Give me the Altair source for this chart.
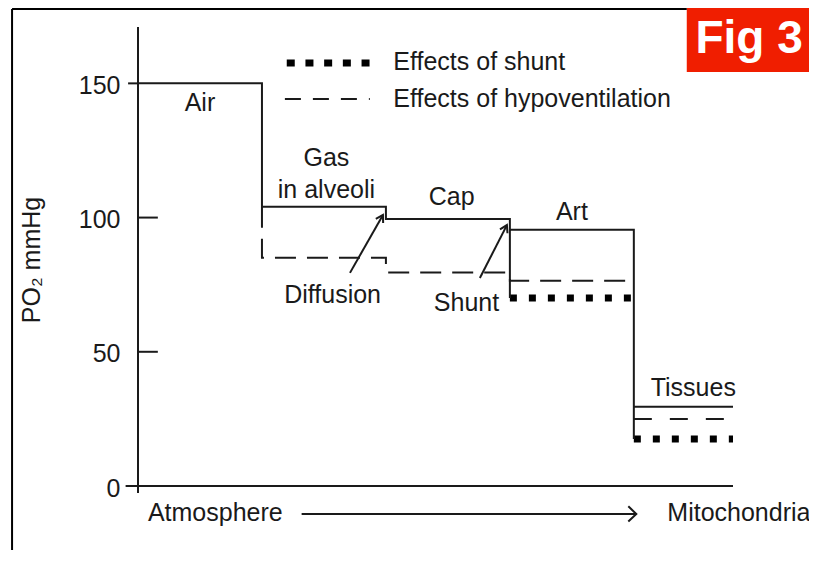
import altair as alt
import pandas as pd

# ---------------- data ----------------
compartments = ["Air", "Gas in alveoli", "Cap", "Art", "Tissues"]
bounds = [0, 1, 2, 3, 4, 4.8]                 # stage boundaries along the pathway
po2_normal = [150, 104, 99.5, 95.5, 29.5]      # mmHg, normal
po2_hypovent = [None, 85, 79.5, 76.5, 25]      # effects of hypoventilation
po2_shunt = [None, None, None, 70, 17.5]       # effects of shunt
tick_values = [0, 50, 100, 150]
tick_side = ["out", "in", "in", "out"]

FONT = "Liberation Sans"
INK = "#1a1a1a"
RED = "#f01e00"
FS = 25

xscale = alt.Scale(domain=[0, 4.8], nice=False, zero=False)
yscale = alt.Scale(domain=[0, 171], nice=False, zero=False)
yaxis = alt.Axis(values=tick_values, domain=False, ticks=False, grid=False, title=None,
                 labelFont=FONT, labelFontSize=FS, labelColor=INK, labelPadding=18,
                 labelOffset=2,
                 labelExpr="datum.value == 0 ? '0\u00a0\u00a0' : datum.label")


def X(f):
    return alt.X(f, type="quantitative", scale=xscale, axis=None)


def Y(f):
    return alt.Y(f, type="quantitative", scale=yscale, axis=yaxis)


# ---------------- build paths from arrays ----------------
solid = []
for i in range(len(compartments)):
    x0, x1 = bounds[i], bounds[i + 1]
    if po2_shunt[i] is not None:
        solid.append((x0, po2_shunt[i]))
    solid.append((x0, po2_normal[i]))
    solid.append((x1, po2_normal[i]))
solid_df = pd.DataFrame([{"x": a, "y": b, "o": k} for k, (a, b) in enumerate(solid)])

dashed = [(bounds[1], po2_normal[1])]
for i in range(1, 4):
    dashed.append((bounds[i], po2_hypovent[i]))
    dashed.append((bounds[i + 1], po2_hypovent[i]))
dashed_df = pd.DataFrame([{"x": a, "y": b, "o": k} for k, (a, b) in enumerate(dashed)])

tissue_dash_df = pd.DataFrame([{"x": bounds[4], "x2": bounds[5], "y": po2_hypovent[4]}])
shunt_df = pd.DataFrame([{"x": bounds[i], "x2": bounds[i + 1], "y": po2_shunt[i]}
                         for i in range(len(compartments)) if po2_shunt[i] is not None])

line_solid = alt.Chart(solid_df).mark_line(color=INK, strokeWidth=2, strokeJoin="miter").encode(
    x=X("x"), y=Y("y"), order="o:Q")
line_dash = alt.Chart(dashed_df).mark_line(color=INK, strokeWidth=2, strokeDash=[21, 11]).encode(
    x=X("x"), y=Y("y"), order="o:Q")
tissue_dash = alt.Chart(tissue_dash_df).mark_rule(color=INK, strokeWidth=2, strokeDash=[18, 18]).encode(
    x=X("x"), x2="x2", y=Y("y"))
shunt_dots = alt.Chart(shunt_df).mark_rule(color="#000", strokeWidth=7, strokeDash=[7, 12]).encode(
    x=X("x"), x2="x2", y=Y("y"))

# axes lines and ticks
axis_df = pd.DataFrame([
    {"x": -0.1, "x2": 4.8, "y": 0, "y2": 0},       # horizontal axis
    {"x": 0, "x2": 0, "y": -2.6, "y2": 171},       # vertical axis
])
axis_lines = alt.Chart(axis_df).mark_rule(color=INK, strokeWidth=2).encode(
    x=X("x"), x2="x2", y=Y("y"), y2="y2")
ticks_df = pd.DataFrame([{"x": (0 if s == "in" else -0.08), "x2": (0.16 if s == "in" else 0), "y": v}
                         for v, s in zip(tick_values, tick_side)])
tick_marks = alt.Chart(ticks_df).mark_rule(color=INK, strokeWidth=2).encode(
    x=X("x"), x2="x2", y=Y("y"))

# frame of the scanned figure
frame_df = pd.DataFrame([
    {"x": -1.016, "x2": -1.016, "y": -30, "y2": 177.7},
    {"x": -1.016, "x2": 4.427, "y": 177.7, "y2": 177.7},
])
frame = alt.Chart(frame_df).mark_rule(color="#000", strokeWidth=2).encode(
    x=X("x"), x2="x2", y=Y("y"), y2="y2")

fig_box_df = pd.DataFrame([{"x": 4.427, "x2": 5.6, "y": 154.2, "y2": 182}])
fig_box = alt.Chart(fig_box_df).mark_rect(color=RED).encode(x=X("x"), x2="x2", y=Y("y"), y2="y2")
fig_text = alt.Chart(pd.DataFrame([{"x": 4.93, "y": 166.5, "t": "Fig 3"}])).mark_text(
    font=FONT, fontSize=46, fontWeight="bold", color="white", align="center", baseline="middle").encode(
    x=X("x"), y=Y("y"), text="t")

# legend
legend_dot = alt.Chart(pd.DataFrame([{"x": 1.20, "x2": 1.87, "y": 157.6}])).mark_rule(
    color="#000", strokeWidth=7, strokeDash=[8, 10.7]).encode(x=X("x"), x2="x2", y=Y("y"))
legend_dash = alt.Chart(pd.DataFrame([{"x": 1.185, "x2": 1.87, "y": 144.2}])).mark_rule(
    color=INK, strokeWidth=2, strokeDash=[16, 12]).encode(x=X("x"), x2="x2", y=Y("y"))

# labels
center_labels = pd.DataFrame([
    {"x": 0.50, "y": 142.7, "t": "Air"},
    {"x": 1.52, "y": 122.2, "t": "Gas"},
    {"x": 1.52, "y": 110.3, "t": "in alveoli"},
    {"x": 2.53, "y": 107.7, "t": "Cap"},
    {"x": 3.50, "y": 102.1, "t": "Art"},
    {"x": 1.57, "y": 71.2, "t": "Diffusion"},
    {"x": 2.65, "y": 68.2, "t": "Shunt"},
    {"x": 4.48, "y": 36.5, "t": "Tissues"},
])
left_labels = pd.DataFrame([
    {"x": 2.06, "y": 157.9, "t": "Effects of shunt"},
    {"x": 2.06, "y": 144.2, "t": "Effects of hypoventilation"},
    {"x": 0.08, "y": -10.0, "t": "Atmosphere"},
    {"x": 4.27, "y": -10.0, "t": "Mitochondria"},
])
txt_c = alt.Chart(center_labels).mark_text(font=FONT, fontSize=FS, color=INK, align="center",
                                           baseline="middle").encode(x=X("x"), y=Y("y"), text="t")
txt_l = alt.Chart(left_labels).mark_text(font=FONT, fontSize=FS, color=INK, align="left",
                                         baseline="middle").encode(x=X("x"), y=Y("y"), text="t")
ytitle = alt.Chart(pd.DataFrame([{"x": -0.855, "y": 84.2, "t": "PO\u2082 mmHg"}])).mark_text(
    font=FONT, fontSize=FS, color=INK, align="center", baseline="middle", angle=270).encode(
    x=X("x"), y=Y("y"), text="t")

# arrows
arrows_df = pd.DataFrame([
    {"x": 1.71, "y": 79.4, "x2": 1.976, "y2": 101.0},
    {"x": 2.758, "y": 77.5, "x2": 2.976, "y2": 97.2},
    {"x": 1.32, "y": -10.4, "x2": 4.02, "y2": -10.4},
])
arrow_lines = alt.Chart(arrows_df).mark_rule(color=INK, strokeWidth=2).encode(
    x=X("x"), y=Y("y"), x2="x2", y2="y2")
heads_small = pd.DataFrame([
    {"x": 1.976, "y": 101.0, "a": 299.6},
    {"x": 2.976, "y": 97.2, "a": 297.0},
])
head_s = alt.Chart(heads_small).mark_point(shape="M -1 -0.6 L 0 0 L -1 0.6", filled=False,
                                           stroke=INK, strokeWidth=2, size=196, opacity=1).encode(
    x=X("x"), y=Y("y"), angle=alt.Angle("a", type="quantitative", scale=None))
head_big = alt.Chart(pd.DataFrame([{"x": 4.02, "y": -10.4}])).mark_point(
    shape="M -1 -0.95 L 0 0 L -1 0.95", filled=False, stroke=INK, strokeWidth=2, size=256,
    opacity=1).encode(x=X("x"), y=Y("y"))

chart = alt.layer(
    fig_box, fig_text, frame, axis_lines, tick_marks,
    line_dash, tissue_dash, shunt_dots, line_solid,
    legend_dot, legend_dash, txt_c, txt_l, ytitle,
    arrow_lines, head_s, head_big,
).properties(
    width=595, height=459,
    padding={"left": 130, "top": 19, "right": 76, "bottom": 64},
    autosize=alt.AutoSizeParams(type="none"),
    background="white",
).configure_view(strokeWidth=0)

chart.save("out.html", embed_options={"renderer": "svg", "actions": False})
